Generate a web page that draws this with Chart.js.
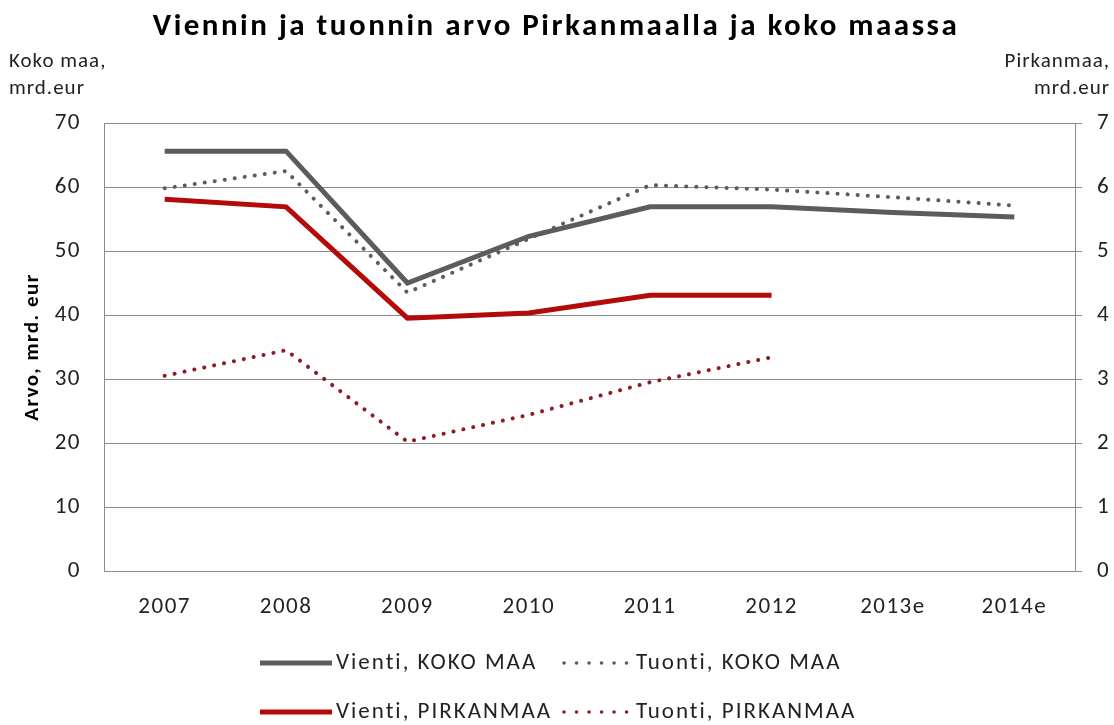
<!DOCTYPE html>
<html><head><meta charset="utf-8">
<script src="https://cdn.jsdelivr.net/npm/chart.js@4/dist/chart.umd.min.js"></script>
<style>html,body{margin:0;padding:0;background:#fff}#wrap{width:1114px;height:725px}</style>
</head><body><div id="wrap"><canvas id="c" width="1114" height="725"></canvas></div>
<script>
const categories = ['2007','2008','2009','2010','2011','2012','2013e','2014e'];
const vientiKoko = [65.6, 65.6, 45.0, 52.3, 56.9, 56.9, 56.0, 55.3];
const tuontiKoko = [59.8, 62.5, 43.5, 51.9, 60.3, 59.6, 58.4, 57.1];
const vientiPirk = [5.81, 5.69, 3.95, 4.03, 4.31, 4.31, null, null];
const tuontiPirk = [3.05, 3.45, 2.02, 2.44, 2.95, 3.34, null, null];
const titleText = 'Viennin ja tuonnin arvo Pirkanmaalla ja koko maassa';
const leftUnit = ['Koko maa,', 'mrd.eur'];
const rightUnit = ['Pirkanmaa,', 'mrd.eur'];
const yTitle = 'Arvo, mrd. eur';
const legendNames = ['Vienti, KOKO MAA','Tuonti, KOKO MAA','Vienti, PIRKANMAA','Tuonti, PIRKANMAA'];

const FONT = "'Carlito','Lato','Open Sans',sans-serif";
const GRAY = '#5c5c5c', RED = '#b50a0a', DRED = '#8e1c24', GRID = '#8c8c8c';

const spacing = {
  id: 'spacing',
  beforeDraw(chart) { chart.ctx.letterSpacing = '1.5px'; }
};

const extras = {
  id: 'extras',
  afterDraw(chart) {
    const ctx = chart.ctx;
    ctx.save();
    ctx.fillStyle = '#000';
    ctx.textBaseline = 'middle';
    ctx.letterSpacing = '2.5px';
    ctx.font = "bold 31px " + FONT;
    ctx.textAlign = 'center';
    ctx.fillText(titleText, 556, 27);
    ctx.letterSpacing = '1px';
    ctx.font = "21px " + FONT;
    ctx.fillStyle = '#222';
    ctx.textAlign = 'left';
    ctx.fillText(leftUnit[0], 9, 62);
    ctx.fillText(leftUnit[1], 9, 89);
    ctx.textAlign = 'right';
    ctx.fillText(rightUnit[0], 1110, 62);
    ctx.fillText(rightUnit[1], 1110, 89);
    // legend
    const ds = chart.data.datasets;
    const rows = [[0,1],[2,3]];
    const ys = [663, 712];
    ctx.letterSpacing = '2px';
    ctx.font = "23px " + FONT;
    ctx.textAlign = 'left';
    rows.forEach((r, ri) => {
      r.forEach((di, ci) => {
        const d = ds[di];
        const y = ys[ri];
        const dotted = !!d.borderDash;
        const x0 = dotted ? 564 : 260;
        ctx.beginPath();
        ctx.strokeStyle = d.borderColor;
        ctx.lineWidth = dotted ? 3.5 : d.borderWidth;
        ctx.lineCap = d.borderCapStyle || 'butt';
        ctx.setLineDash(dotted ? [0.1, 12.4] : []);
        const len = dotted ? 63 : 72;
        ctx.moveTo(x0, y); ctx.lineTo(x0 + len, y);
        ctx.stroke();
        ctx.setLineDash([]);
        ctx.fillStyle = '#222';
        ctx.fillText(legendNames[di], dotted ? 636 : 336, y);
      });
    });
    ctx.restore();
  }
};

new Chart(document.getElementById('c'), {
  type: 'line',
  data: {
    labels: categories,
    datasets: [
      {label: legendNames[0], data: vientiKoko, yAxisID: 'y', borderColor: GRAY, borderWidth: 5, pointRadius: 0, tension: 0},
      {label: legendNames[1], data: tuontiKoko, yAxisID: 'y', borderColor: GRAY, borderWidth: 4, borderDash: [0.1, 10], borderCapStyle: 'round', pointRadius: 0, tension: 0},
      {label: legendNames[2], data: vientiPirk, yAxisID: 'y2', borderColor: RED, borderWidth: 5, pointRadius: 0, tension: 0},
      {label: legendNames[3], data: tuontiPirk, yAxisID: 'y2', borderColor: DRED, borderWidth: 4, borderDash: [0.1, 10], borderCapStyle: 'round', pointRadius: 0, tension: 0}
    ]
  },
  options: {
    responsive: false,
    animation: false,
    layout: {padding: {top: 123, bottom: 84, left: 0, right: 0}},
    plugins: {legend: {display: false}, title: {display: false}, tooltip: {enabled: false}},
    scales: {
      x: {
        offset: true,
        grid: {display: false, drawTicks: false, offset: true},
        border: {display: true, color: GRID, width: 1},
        ticks: {padding: 22, color: '#222', font: {family: FONT, size: 23}, maxRotation: 0, autoSkip: false},
        afterFit(s) { s.height = 70; }
      },
      y: {
        position: 'left', min: 0, max: 70,
        ticks: {stepSize: 10, padding: 23, color: '#222', font: {family: FONT, size: 23}},
        grid: {color: GRID, lineWidth: 1, drawTicks: false},
        border: {display: true, color: GRID, width: 1},
        title: {display: true, text: yTitle, color: '#000', font: {family: FONT, size: 21, weight: 'bold'}, padding: {top: 20, bottom: 0}},
        afterFit(s) { s.width = 104; }
      },
      y2: {
        position: 'right', min: 0, max: 7,
        ticks: {stepSize: 1, padding: 15, color: '#222', font: {family: FONT, size: 23}},
        grid: {drawOnChartArea: false, drawTicks: true, tickLength: 7, color: GRID},
        border: {display: true, color: GRID, width: 1},
        afterFit(s) { s.width = 39; }
      }
    }
  },
  plugins: [spacing, extras]
});
</script>
</body></html>
